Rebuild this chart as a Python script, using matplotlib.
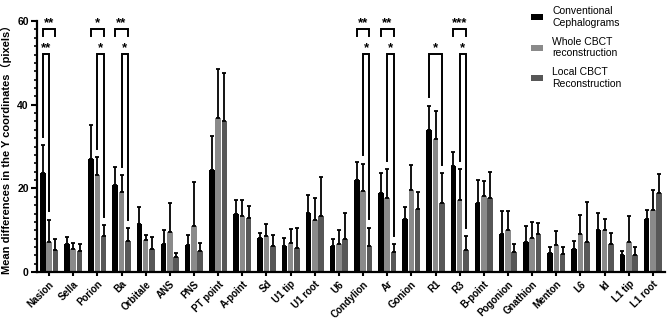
import numpy as np
import matplotlib
matplotlib.use("Agg")
import matplotlib.pyplot as plt
from matplotlib.ticker import MultipleLocator

plt.rcParams['font.family'] = ['Liberation Sans', 'DejaVu Sans']

landmarks = ["Nasion", "Sella", "Porion", "Ba", "Orbitale", "ANS", "PNS", "PT point",
             "A-point", "Sd", "U1 tip", "U1 root", "U6", "Condylion", "Ar", "Gonion",
             "R1", "R3", "B-point", "Pogonion", "Gnathion", "Menton", "L6", "Id",
             "L1 tip", "L1 root"]

# mean values
conv_mean = [23.8, 6.6, 27.1, 20.9, 11.4, 6.8, 6.5, 24.4, 13.8, 8.1, 6.3, 14.1, 6.2,
             22.0, 19.0, 12.8, 34.0, 25.3, 16.5, 9.2, 7.2, 4.5, 5.6, 10.1, 4.0, 12.8]
whole_mean = [7.2, 5.5, 23.2, 19.1, 7.7, 9.6, 10.9, 36.8, 13.4, 8.6, 6.9, 12.4, 6.7,
              19.5, 17.6, 19.7, 31.8, 17.3, 18.1, 10.0, 8.1, 6.4, 9.0, 10.0, 7.3, 14.8]
local_mean = [5.2, 5.0, 8.7, 7.4, 5.5, 3.6, 5.0, 36.0, 13.0, 6.3, 5.8, 13.4, 7.8,
              6.2, 4.7, 15.0, 16.6, 5.2, 17.6, 4.7, 9.1, 4.3, 7.3, 6.6, 4.2, 19.0]
# upper end of error bar
conv_top = [30.3, 8.4, 35.2, 25.1, 15.6, 10.1, 8.8, 32.5, 17.2, 9.4, 8.2, 18.4, 7.9,
            26.4, 23.7, 15.6, 39.8, 28.7, 21.9, 14.5, 11.0, 6.1, 7.4, 14.1, 5.0, 14.8]
whole_top = [12.5, 7.0, 27.5, 23.1, 8.8, 16.5, 21.6, 48.5, 17.2, 11.4, 10.4, 17.8, 10.1,
             25.9, 24.6, 25.5, 38.5, 24.6, 21.8, 14.5, 12.0, 9.8, 13.6, 12.8, 13.3, 19.7]
local_top = [7.8, 6.6, 11.2, 10.5, 8.3, 4.6, 7.0, 47.7, 15.9, 8.8, 10.5, 22.8, 14.2,
             10.6, 6.6, 19.2, 23.7, 8.6, 23.9, 6.7, 11.8, 5.9, 16.7, 9.4, 6.0, 23.5]

series_names = ["Conventional\nCephalograms", "Whole CBCT\nreconstruction", "Local CBCT\nReconstruction"]
series_colors = ["#000000", "#8a8a8a", "#575757"]

# significance: (landmark, group a, group b, stars, level)
sig_marks = [
    ("Nasion", 0, 2, "**", "top"), ("Nasion", 0, 1, "**", "low"),
    ("Porion", 0, 2, "*", "top"), ("Porion", 1, 2, "*", "low"),
    ("Ba", 0, 2, "**", "top"), ("Ba", 1, 2, "*", "low"),
    ("Condylion", 0, 2, "**", "top"), ("Condylion", 1, 2, "*", "low"),
    ("Ar", 0, 2, "**", "top"), ("Ar", 1, 2, "*", "low"),
    ("R1", 0, 2, "*", "low"),
    ("R3", 0, 2, "***", "top"), ("R3", 1, 2, "*", "low"),
]

fig = plt.figure(figsize=(6.69, 3.19), dpi=100)
ax = fig.add_axes([0.0553, 0.147, 0.9387, 0.787])

x = np.arange(len(landmarks))
offs = 0.26
bw = 0.23
means = [conv_mean, whole_mean, local_mean]
tops = [conv_top, whole_top, local_top]
for k in range(3):
    m = np.array(means[k])
    t = np.array(tops[k])
    xs = x + (k - 1) * offs
    ax.bar(xs, m, width=bw, color=series_colors[k], label=series_names[k], zorder=2)
    ax.errorbar(xs, m, yerr=[np.zeros_like(m), t - m], fmt='none', ecolor='black',
                elinewidth=1.3, capsize=1.4, capthick=1.3, zorder=3)

for name, a, b, stars, level in sig_marks:
    i = landmarks.index(name)
    xa = i + (a - 1) * offs
    xb = i + (b - 1) * offs
    if level == "top":
        yh = 58.0
        ya = yb = 56.4
    else:
        yh = 52.1
        ya = tops[a][i] + 2.0
        yb = tops[b][i] + 2.0
    ax.plot([xa, xa, xb, xb], [ya, yh, yh, yb], color='black', lw=1.4,
            clip_on=False, zorder=4, solid_joinstyle='miter')
    ax.text((xa + xb) / 2, yh + 0.1, stars, ha='center', va='bottom',
            fontsize=9.5, fontweight='bold', clip_on=False)

ax.set_xlim(-0.5, len(landmarks) - 0.5)
ax.set_ylim(0, 60)
ax.set_yticks([0, 20, 40, 60])
ax.yaxis.set_minor_locator(MultipleLocator(2))
ax.set_xticks(x)
ax.set_xticklabels(landmarks, rotation=45, ha='right', rotation_mode='anchor',
                   fontsize=7, fontweight='bold')
for lab in ax.get_yticklabels():
    lab.set_fontweight('bold')
    lab.set_fontsize(7.5)
ax.tick_params(axis='both', which='major', width=1.5, length=4, pad=2)
ax.tick_params(axis='y', which='minor', width=1.2, length=2.5)
ax.tick_params(axis='x', which='major', length=3)
for s in ['top', 'right']:
    ax.spines[s].set_visible(False)
for s in ['left', 'bottom']:
    ax.spines[s].set_linewidth(1.6)

ax.set_ylabel("Mean differences in the Y coordinates（pixels）", fontsize=8, fontweight='bold',
              family=['Liberation Sans', 'Noto Sans CJK SC'])
ax.yaxis.set_label_coords(-0.04, 0.5)

ax.legend(loc='upper left', bbox_to_anchor=(0.785, 1.0), bbox_transform=fig.transFigure,
          frameon=False, fontsize=7.5, handlelength=1.1, handleheight=0.5,
          handletextpad=0.9, labelspacing=0.85, borderaxespad=0.2)

fig.savefig("out.png", dpi=100)
